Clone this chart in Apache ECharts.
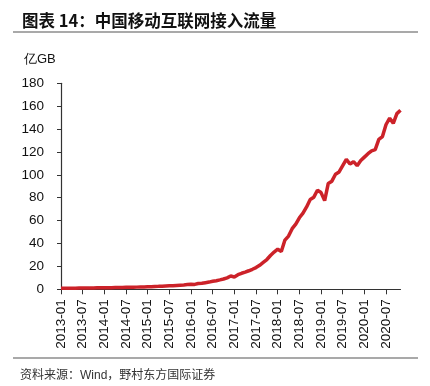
<!DOCTYPE html>
<html>
<head>
<meta charset="utf-8">
<script src="https://cdn.jsdelivr.net/npm/echarts@6/dist/echarts.min.js"></script>
<style>
html,body{margin:0;padding:0;background:#fff;}
#c{width:430px;height:386px;}
</style>
</head>
<body>
<div id="c"></div>
<script>
// Monthly categories 2013-01 .. 2020-11
const categories = [];
for (let y = 2013; y <= 2020; y++) {
  for (let m = 1; m <= 12; m++) {
    if (y === 2020 && m > 11) break;
    categories.push(y + '-' + (m < 10 ? '0' + m : m));
  }
}
// 中国移动互联网接入流量 (亿GB)
const traffic = [
  0.9, 0.85, 0.95, 1.0, 1.0, 1.05, 1.1, 1.1, 1.15, 1.2, 1.25, 1.3,
  1.35, 1.3, 1.45, 1.5, 1.55, 1.6, 1.7, 1.75, 1.8, 1.9, 2.0, 2.1,
  2.2, 2.2, 2.5, 2.6, 2.75, 2.9, 3.05, 3.2, 3.4, 3.6, 3.8, 4.1,
  4.4, 4.3, 5.0, 5.3, 5.8, 6.3, 7.0, 7.5, 8.2, 9.0, 10.0, 11.6,
  10.8, 12.8, 14.0, 15.0, 16.2, 17.5, 19.0, 21.0, 23.5, 26.0, 29.5, 32.5,
  35.0, 33.0, 43.0, 46.5, 53.0, 57.0, 62.5, 66.5, 72.0, 78.5, 80.5, 86.5,
  84.5, 77.5, 92.5, 94.5, 100.5, 102.5, 108.0, 113.5, 109.5, 111.5, 108.0, 112.5,
  115.5, 118.5, 121.0, 122.0, 131.0, 133.5, 144.0, 149.5, 145.0, 153.5, 156.5
];
const yTicks = { min: 0, max: 180, interval: 20 };
const titleText = '图表 14：中国移动互联网接入流量';
const unitText = '亿GB';
const sourceText = '资料来源：Wind，野村东方国际证券';

const chart = echarts.init(document.getElementById('c'), null, { renderer: 'canvas' });
const sans = 'Arial, "Liberation Sans", "Noto Sans CJK SC", sans-serif';
chart.setOption({
  animation: false,
  backgroundColor: '#fff',
  title: [
    { text: titleText, left: 17, top: 7,
      textStyle: { fontSize: 16.5, fontWeight: 'bold', color: '#111', fontFamily: '"Noto Sans CJK SC", sans-serif' } },
    { text: sourceText, left: 15, top: 365,
      textStyle: { fontSize: 12, fontWeight: 'normal', color: '#333', fontFamily: sans } }
  ],
  graphic: [
    { type: 'line', shape: { x1: 13, y1: 32, x2: 418, y2: 32 }, style: { stroke: '#8c8c8c', lineWidth: 1.5 } },
    { type: 'line', shape: { x1: 13, y1: 358, x2: 418, y2: 358 }, style: { stroke: '#8c8c8c', lineWidth: 1.5 } },
    { type: 'text', left: 24, top: 53, style: { text: unitText, fontSize: 13, fill: '#111', font: '13px ' + sans } }
  ],
  grid: { left: 61, right: 29.5, top: 83.3, bottom: 96.7, containLabel: false },
  xAxis: {
    type: 'category',
    data: categories,
    boundaryGap: false,
    axisLine: { lineStyle: { color: '#333', width: 1.2 } },
    axisTick: { interval: 5, length: 5, lineStyle: { color: '#333' } },
    axisLabel: { interval: 5, rotate: 90, margin: 10, fontSize: 13.5, color: '#111', fontFamily: sans },
    splitLine: { show: false }
  },
  yAxis: {
    type: 'value',
    min: yTicks.min, max: yTicks.max, interval: yTicks.interval,
    axisLine: { show: true, lineStyle: { color: '#333', width: 1.2 } },
    axisTick: { show: true, length: 4, lineStyle: { color: '#333' } },
    axisLabel: { margin: 17, fontSize: 13.5, color: '#111', fontFamily: sans },
    splitLine: { show: false }
  },
  series: [{
    type: 'line',
    data: traffic,
    symbol: 'none',
    lineStyle: { color: '#cc2229', width: 3.5 },
    itemStyle: { color: '#cc2229' }
  }]
});
</script>
</body>
</html>
